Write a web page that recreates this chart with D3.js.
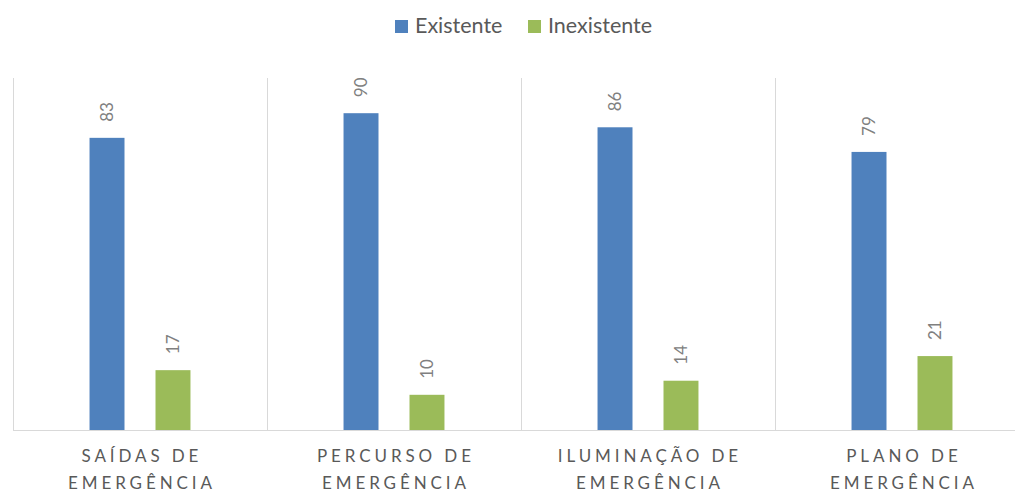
<!DOCTYPE html>
<html><head><meta charset="utf-8">
<script src="https://cdn.jsdelivr.net/npm/d3@7"></script>
<style>body{margin:0;background:#fff}svg{display:block}</style>
</head><body>
<svg id="c" width="1015" height="491"></svg>
<script>
const categories = [["SAÍDAS DE","EMERGÊNCIA"],["PERCURSO DE","EMERGÊNCIA"],["ILUMINAÇÃO DE","EMERGÊNCIA"],["PLANO DE","EMERGÊNCIA"]];
const seriesNames = ["Existente","Inexistente"];
const existente = [83, 90, 86, 79];
const inexistente = [17, 10, 14, 21];
const colors = ["#4f81bd","#9bbb59"];

const svg = d3.select("#c");
const font = "Lato, 'Open Sans', sans-serif";
const catKeys = categories.map(c => c.join(" "));
const x0 = d3.scaleBand().domain(catKeys).range([13, 1029]).padding(0);
const x1 = d3.scaleBand().domain(seriesNames).range([0, x0.bandwidth()]).paddingInner(0.47).paddingOuter(1.16);
const y = d3.scaleLinear().domain([0, 100]).range([430, 78]);

// vertical gridlines (category separators)
const seps = catKeys.map(k => x0(k)).concat([x0.range()[1]]);
svg.append("g").selectAll("line").data(seps).join("line")
  .attr("x1", d => d + 0.5).attr("x2", d => d + 0.5)
  .attr("y1", y(100)).attr("y2", y(0))
  .attr("stroke", "#d9d9d9").attr("stroke-width", 1);

// baseline
svg.append("line").attr("x1", 13).attr("x2", 1029).attr("y1", y(0) + 0.5).attr("y2", y(0) + 0.5)
  .attr("stroke", "#d9d9d9").attr("stroke-width", 1);

const data = catKeys.map((k, i) => ({k, vals: [existente[i], inexistente[i]]}));
const g = svg.append("g").selectAll("g").data(data).join("g")
  .attr("transform", d => `translate(${x0(d.k)},0)`);
g.selectAll("rect").data(d => d.vals.map((v, j) => ({s: seriesNames[j], v, j}))).join("rect")
  .attr("x", d => x1(d.s)).attr("width", x1.bandwidth())
  .attr("y", d => y(d.v)).attr("height", d => y(0) - y(d.v))
  .attr("fill", d => colors[d.j]);
g.selectAll("text.val").data(d => d.vals.map((v, j) => ({s: seriesNames[j], v, j}))).join("text")
  .attr("class", "val")
  .attr("transform", d => `translate(${x1(d.s) + x1.bandwidth() / 2 + 6},${y(d.v) - 16}) rotate(-90)`)
  .attr("font-family", font).attr("font-size", 17).attr("fill", "#808080")
  .attr("text-anchor", "start")
  .text(d => d.v);

// category labels
const ls = 3.9;
const cl = svg.append("g").selectAll("text").data(categories).join("text")
  .attr("x", (d, i) => x0(catKeys[i]) + x0.bandwidth() / 2 + ls / 2)
  .attr("font-family", font).attr("font-size", 17).attr("fill", "#595959")
  .attr("letter-spacing", ls).attr("text-anchor", "middle");
cl.selectAll("tspan").data(d => d).join("tspan")
  .attr("x", function() { return d3.select(this.parentNode).attr("x"); })
  .attr("y", (d, i) => 462 + i * 27)
  .text(d => d);

// legend
const leg = svg.append("g");
const legX = [395, 528];
seriesNames.forEach((s, i) => {
  leg.append("rect").attr("x", legX[i]).attr("y", 20).attr("width", 13).attr("height", 13).attr("fill", colors[i]);
  leg.append("text").attr("x", legX[i] + 20).attr("y", 33).attr("font-family", font).attr("font-size", 21.5)
    .attr("fill", "#595959").text(s);
});
</script>
</body></html>
